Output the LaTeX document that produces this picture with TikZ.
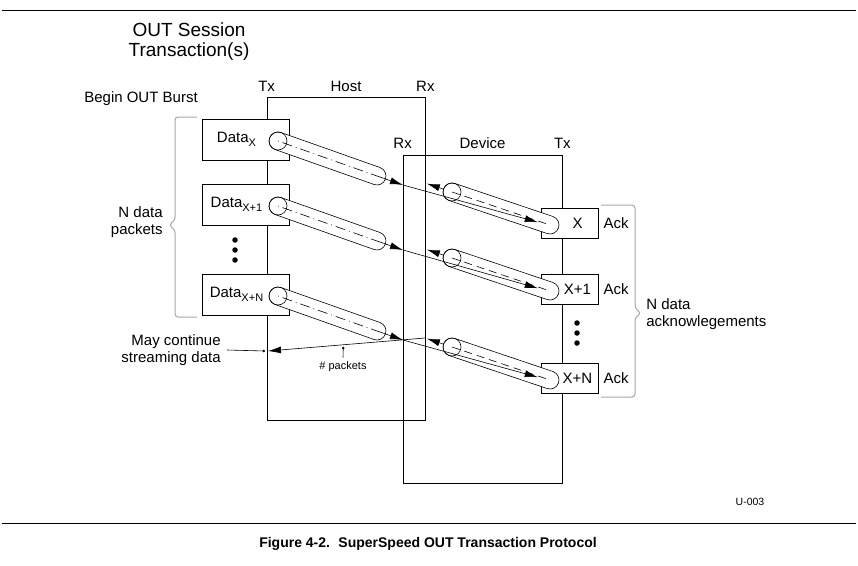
\documentclass[tikz,border=0pt]{standalone}
\usepackage{fontspec}
\setmainfont{Liberation Sans}
\usetikzlibrary{arrows.meta,positioning,calc}

% subscript of the packet names
\newcommand{\dsub}[1]{\raisebox{-3.5pt}{\fontsize{11}{12}\selectfont #1}}
% one packet pipe: circle centre, cap centre, centre-line style
\newcommand{\pktpipe}[3]{%
  \path let \p1=($(#2)-(#1)$), \n1={atan2(\y1,\x1)}, \n2={veclen(\x1,\y1)} in
    node[pipe, rotate=\n1, minimum width={\n2+18}] at ($(#1)!0.5!(#2)$) {};
  \draw[#3] (#1) -- (#2);
  \draw[thin, line width=0.6pt] (#1) circle[radius=9pt];
}

\begin{document}
\begin{tikzpicture}[
    x = 1pt, y = -1pt, % pixel grid of the figure
    > = {Latex[length=13pt,width=7pt]}, % arrow head style
    line width = 0.7pt,
    lbl/.style = {font=\fontsize{15}{17}\selectfont, inner sep=0pt},
    frame/.style = {draw, line width=0.8pt},
    databox/.style = {draw, fill=white, minimum width=87pt, minimum height=41pt, inner sep=0pt},
    ackbox/.style = {draw, fill=white, minimum width=57pt, minimum height=30pt, inner sep=0pt},
    pipe/.style = {draw, fill=white, line width=0.6pt, rounded corners=9pt,
                   minimum height=18pt, inner sep=0pt},
    dataline/.style = {line width=0.6pt, dash pattern=on 0.8pt off 4pt on 10pt off 4pt},
    ackline/.style = {line width=0.6pt, dash pattern=on 8pt off 5pt},
    brace/.style = {draw=gray!70, line width=1pt, rounded corners=3pt},
    dot/.style = {circle, fill, inner sep=0pt, minimum size=5.5pt}
    ]
    \useasboundingbox (0,0) rectangle (858,565);

    % rules and caption
    \draw[line width=0.8pt] (2,10) -- (856,10);
    \draw[line width=0.8pt] (2,523) -- (856,523);
    \node[font=\fontsize{14}{16}\selectfont\bfseries, inner sep=0pt] (cap) at (428,544)
        {Figure 4-2.\hspace{0.6em}SuperSpeed OUT Transaction Protocol};
    \node[font=\fontsize{10.5}{12}\selectfont, inner sep=0pt] (uid) at (750,502) {U-003};

    \node[font=\fontsize{19}{20}\selectfont, align=center, inner sep=0pt] (title) at (189,42)
        {OUT Session\\Transaction(s)};
    \node[lbl] (burst) at (141,99) {Begin OUT Burst};

    % host and device
    \node[frame, minimum width=158pt, minimum height=323pt] (host) at (346,258.5) {};
    \node[frame, minimum width=159pt, minimum height=328pt] (device) at (482.5,319) {};
    \node[lbl, above=5pt of host.north west] (htx) {Tx};
    \node[lbl, above=5pt of host.north] (hname) {Host};
    \node[lbl, above=5pt of host.north east] (hrx) {Rx};
    \node[lbl, above=6pt of device.north west] (drx) {Rx};
    \node[lbl, above=6pt of device.north] (dname) {Device};
    \node[lbl, above=6pt of device.north east] (dtx) {Tx};

    % data packets
    \node[databox, label={[lbl, xshift=-9pt]center:Data\dsub{X}}] (data1) at (245.5,139.5) {};
    \node[databox, label={[lbl, xshift=-9pt]center:Data\dsub{X+1}}] (data2) at (245.5,204.5) {};
    \node[databox, label={[lbl, xshift=-9pt]center:Data\dsub{X+N}}] (data3) at (245.5,294.5) {};
    \node[dot] (dd1) at (235,240) {};
    \node[dot] (dd2) at (235,250) {};
    \node[dot] (dd3) at (235,260) {};

    % acknowledgements
    \node[ackbox, label={[lbl, xshift=8pt]center:X}] (ack1) at (569.5,223) {};
    \node[ackbox, label={[lbl, xshift=8pt]center:X+1}] (ack2) at (569.5,289) {};
    \node[ackbox, label={[lbl, xshift=8pt]center:X+N}] (ack3) at (569.5,378) {};
    \node[lbl, right=5pt of ack1] (ackt1) {Ack};
    \node[lbl, right=5pt of ack2] (ackt2) {Ack};
    \node[lbl, right=5pt of ack3] (ackt3) {Ack};
    \node[dot] (ad1) at (577,323) {};
    \node[dot] (ad2) at (577,333) {};
    \node[dot] (ad3) at (577,343) {};

    % braces
    \draw[brace] (197,117) -- (175,117) -- (175,220) -- (169,225) -- (175,230) -- (175,317) -- (197,317);
    \draw[brace] (601,205) -- (635,205) -- (635,308) -- (641,313) -- (635,318) -- (635,397) -- (601,397);
    \node[lbl, align=right, anchor=east] (npk) at (163,222) {N data\\packets};
    \node[lbl, align=left, anchor=west] (nack) at (646,314) {N data\\acknowlegements};

    % pipe ends
    \coordinate (d1) at (278,141); \coordinate (e1) at (377,176); \coordinate (r1) at (403,185);
    \coordinate (d2) at (278,206); \coordinate (e2) at (377,241); \coordinate (r2) at (403,250);
    \coordinate (d3) at (278,296); \coordinate (e3) at (377,331); \coordinate (r3) at (403,340);
    \coordinate (c1) at (550,225); \coordinate (o1) at (452,192); \coordinate (h1) at (425,183);
    \coordinate (c2) at (550,291); \coordinate (o2) at (452,258); \coordinate (h2) at (425,249);
    \coordinate (c3) at (550,380); \coordinate (o3) at (452,347); \coordinate (h3) at (425,338);

    \pktpipe{d1}{e1}{dataline}
    \pktpipe{d2}{e2}{dataline}
    \pktpipe{d3}{e3}{dataline}
    \pktpipe{o1}{c1}{ackline}
    \pktpipe{o2}{c2}{ackline}
    \pktpipe{o3}{c3}{ackline}

    % data into the device, on to the acks
    \draw[->, line width=0.6pt] (e1) -- (r1);
    \draw[->, line width=0.6pt] (e2) -- (r2);
    \draw[->, line width=0.6pt] (e3) -- (r3);
    \draw[->, line width=0.6pt, shorten >=3pt] (r1) -- (ack1.west);
    \draw[->, line width=0.6pt, shorten >=3pt] (r2) -- (ack2.west);
    \draw[->, line width=0.6pt, shorten >=3pt] (r3) -- (ack3.west);
    % acks back to the host
    \draw[->, line width=0.6pt, shorten <=9pt, shorten >=2pt] (o1) -- (h1);
    \draw[->, line width=0.6pt, shorten <=9pt, shorten >=2pt] (o2) -- (h2);
    \draw[->, line width=0.6pt, shorten <=9pt, shorten >=2pt] (o3) -- (h3);

    % streaming on
    \coordinate (cont) at (268,351);
    \draw[->, line width=0.6pt] (h3) -- (cont);
    \node[lbl, align=right, anchor=east] (more) at (221,350) {May continue\\streaming data};
    \draw[-{Circle[length=2.5pt]}, line width=0.6pt] ([xshift=6pt]more.east) -- ([xshift=-3pt]cont);
    \node[font=\fontsize{11}{12}\selectfont, inner sep=0pt] (npkts) at (343,367) {\# packets};
    \coordinate (pk) at ($(h3)!0.52!(cont)$);
    \draw[-{Circle[length=2.5pt]}, line width=0.6pt, shorten >=2pt] ([yshift=4pt]npkts.north) -- (pk);
\end{tikzpicture}
\end{document}
